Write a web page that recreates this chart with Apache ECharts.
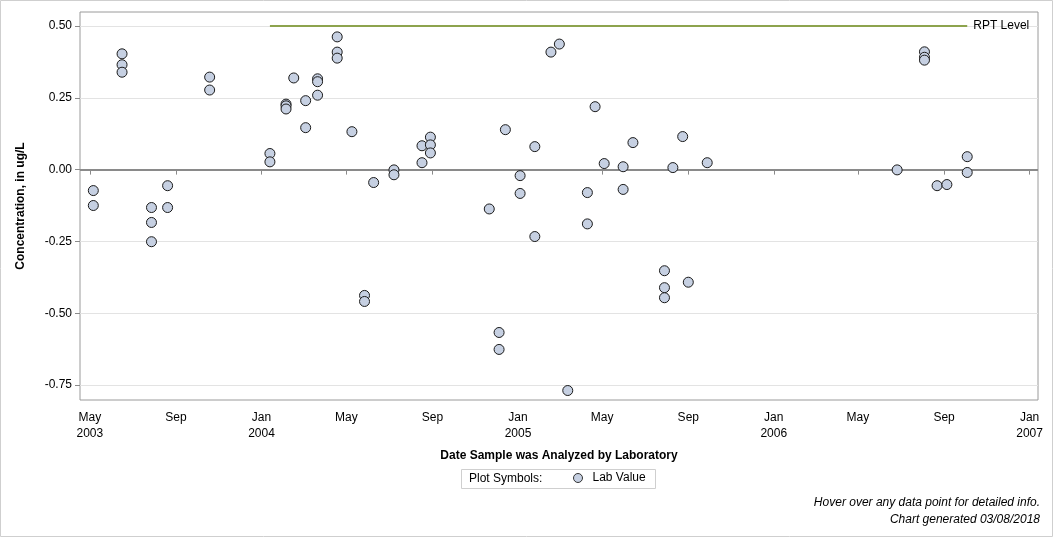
<!DOCTYPE html>
<html>
<head>
<meta charset="utf-8">
<script src="https://cdn.jsdelivr.net/npm/echarts@6/dist/echarts.min.js"></script>
<style>
  html, body { margin:0; padding:0; background:#fff; }
  #main { width:1056px; height:538px; }
</style>
</head>
<body>
<div id="main"></div>
<script>
// sample dates and lab values
var sampleDates = [
  '2003-05-06','2003-05-06',
  '2003-06-16','2003-06-16','2003-06-16',
  '2003-07-28','2003-07-28','2003-07-28',
  '2003-08-20','2003-08-20',
  '2003-10-19','2003-10-19',
  '2004-01-13','2004-01-13',
  '2004-02-05','2004-02-05','2004-02-05',
  '2004-02-16',
  '2004-03-04','2004-03-04',
  '2004-03-21','2004-03-21','2004-03-21',
  '2004-04-18','2004-04-18','2004-04-18',
  '2004-05-09',
  '2004-05-27','2004-05-27',
  '2004-06-09',
  '2004-07-08','2004-07-08',
  '2004-08-17','2004-08-17',
  '2004-08-29','2004-08-29','2004-08-29',
  '2004-11-21',
  '2004-12-05','2004-12-05',
  '2004-12-14',
  '2005-01-04','2005-01-04',
  '2005-01-25','2005-01-25',
  '2005-02-17',
  '2005-03-01',
  '2005-03-13',
  '2005-04-10','2005-04-10',
  '2005-04-21',
  '2005-05-04',
  '2005-05-31','2005-05-31',
  '2005-06-14',
  '2005-07-29','2005-07-29','2005-07-29',
  '2005-08-10',
  '2005-08-24',
  '2005-09-01',
  '2005-09-28',
  '2006-06-26',
  '2006-08-04','2006-08-04','2006-08-04',
  '2006-08-22',
  '2006-09-05',
  '2006-10-04','2006-10-04'
];
var labValues = [
  -0.073,-0.125,
  0.403,0.365,0.339,
  -0.132,-0.184,-0.251,
  -0.056,-0.132,
  0.322,0.277,
  0.056,0.027,
  0.228,0.222,0.211,
  0.319,
  0.240,0.146,
  0.316,0.306,0.259,
  0.462,0.409,0.388,
  0.132,
  -0.438,-0.459,
  -0.045,
  -0.001,-0.018,
  0.083,0.024,
  0.113,0.086,0.058,
  -0.137,
  -0.567,-0.626,
  0.139,
  -0.021,-0.083,
  0.080,-0.233,
  0.409,
  0.437,
  -0.769,
  -0.080,-0.189,
  0.219,
  0.021,
  0.010,-0.069,
  0.094,
  -0.352,-0.411,-0.446,
  0.007,
  0.115,
  -0.392,
  0.024,
  -0.001,
  0.410,0.391,0.381,
  -0.056,
  -0.052,
  0.045,-0.010
];
var rptLevel = 0.5;
var rptStart = '2004-01-13';
var rptEnd = '2006-10-04';
var xTickDates = ['2003-05-01','2003-09-01','2004-01-01','2004-05-01','2004-09-01','2005-01-01',
                  '2005-05-01','2005-09-01','2006-01-01','2006-05-01','2006-09-01','2007-01-01'];
var yTicks = [-0.75,-0.5,-0.25,0,0.25,0.5];
var monthNames = ['Jan','Feb','Mar','Apr','May','Jun','Jul','Aug','Sep','Oct','Nov','Dec'];

function toMs(s){
  var p = s.split('-');
  return Date.UTC(+p[0], +p[1]-1, +p[2]);
}

var points = [];
for (var i = 0; i < sampleDates.length; i++) {
  points.push([toMs(sampleDates[i]), labValues[i]]);
}
var xTicks = xTickDates.map(toMs);

var font = 'Liberation Sans, Arial, sans-serif';
var myChart = echarts.init(document.getElementById('main'), null, {renderer:'canvas'});

var option = {
  animation:false,
  backgroundColor:'#fff',
  textStyle:{fontFamily:font},
  grid:{left:80, top:12, right:18, bottom:138, show:true, borderColor:'#9a9a9a', borderWidth:1, containLabel:false},
  xAxis:{
    type:'value',
    min:toMs('2003-04-17'),
    max:toMs('2007-01-13'),
    name:'Date Sample was Analyzed by Laboratory',
    nameLocation:'middle',
    nameGap:50,
    nameTextStyle:{fontWeight:'bold', fontSize:12, color:'#000', fontFamily:font},
    axisLine:{show:false},
    axisTick:{show:true, length:5, customValues:xTicks, lineStyle:{color:'#8a8a8a'}},
    splitLine:{show:false},
    axisLabel:{
      customValues:xTicks,
      fontSize:12, color:'#000', lineHeight:16, margin:10, fontFamily:font,
      formatter:function(v){
        var d = new Date(v);
        var m = d.getUTCMonth();
        if (m === 0 || v === xTicks[0]) return monthNames[m] + '\n' + d.getUTCFullYear();
        return monthNames[m];
      }
    }
  },
  yAxis:{
    type:'value',
    min:-0.802,
    max:0.5486,
    name:'Concentration, in ug/L',
    nameLocation:'middle',
    nameGap:53,
    nameTextStyle:{fontWeight:'bold', fontSize:12, color:'#000', fontFamily:font},
    axisLine:{show:false},
    axisTick:{show:true, length:5, customValues:yTicks, lineStyle:{color:'#8a8a8a'}},
    splitLine:{show:true, lineStyle:{color:'#e3e3e3', width:1}},
    axisLabel:{
      customValues:yTicks,
      fontSize:12, color:'#000', margin:8, fontFamily:font,
      formatter:function(v){ return v.toFixed(2); }
    }
  },
  legend:{
    left:573, top:472, padding:0,
    icon:'circle', itemWidth:9, itemHeight:9, itemGap:6,
    itemStyle:{borderWidth:1, borderColor:'#333'},
    textStyle:{fontSize:12, color:'#000', fontFamily:font, padding:[4,0,0,5]},
    data:['Lab Value']
  },
  graphic:[
    {type:'rect', shape:{x:0.5, y:0.5, width:1052, height:536}, style:{fill:null, stroke:'#cfcfcf', lineWidth:1}, silent:true},
    {type:'rect', shape:{x:461.5, y:469.5, width:194, height:19}, style:{fill:null, stroke:'#cfcfcf', lineWidth:1}, silent:true},
    {type:'text', x:469, y:479, style:{text:'Plot Symbols:', fontSize:12, fill:'#000', fontFamily:font, verticalAlign:'middle'}},
    {type:'text', x:1040, y:503, style:{text:'Hover over any data point for detailed info.', fontSize:12, fontStyle:'italic', fill:'#000', fontFamily:font, align:'right', verticalAlign:'middle'}},
    {type:'text', x:1040, y:520, style:{text:'Chart generated 03/08/2018', fontSize:12, fontStyle:'italic', fill:'#000', fontFamily:font, align:'right', verticalAlign:'middle'}}
  ],
  series:[
    {
      name:'Lab Value',
      type:'scatter',
      symbol:'circle',
      symbolSize:10,
      z:5,
      itemStyle:{color:'#c6d0e2', borderColor:'#1a1a1a', borderWidth:1, opacity:1},
      data:points,
      markLine:{
        silent:true,
        symbol:'none',
        z:2,
        data:[
          [
            {coord:[toMs('2003-04-17'),0], lineStyle:{color:'#8a8a8a', width:2, type:'solid'}, label:{show:false}},
            {coord:[toMs('2007-01-13'),0]}
          ],
          [
            {coord:[toMs(rptStart),rptLevel], lineStyle:{color:'#8da34d', width:2, type:'solid'},
             label:{show:true, position:'end', formatter:'RPT Level', color:'#000', fontSize:12, fontFamily:font, distance:6}},
            {coord:[toMs(rptEnd),rptLevel]}
          ]
        ]
      }
    }
  ]
};
myChart.setOption(option);
</script>
</body>
</html>
